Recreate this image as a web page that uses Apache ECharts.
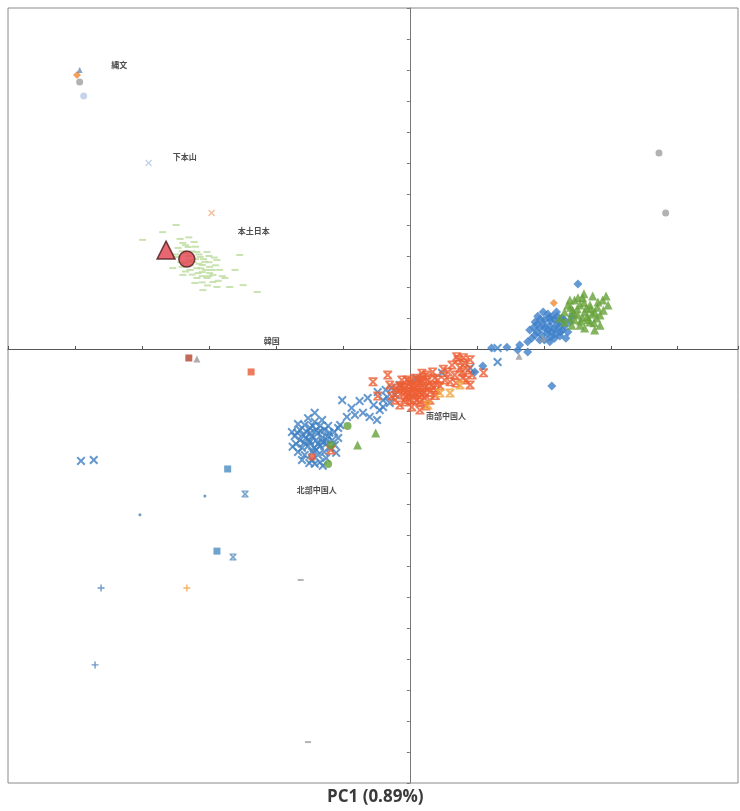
<!DOCTYPE html>
<html><head><meta charset="utf-8">
<script src="https://cdn.jsdelivr.net/npm/echarts@6/dist/echarts.min.js"></script>
<style>html,body{margin:0;padding:0;background:#fff}#c{width:740px;height:811px}</style>
</head><body><div id="c"></div>
<script>
// PC1 (x) / PC2 (y) scores, units of 0.001
const blueCross = [[-16.4,-26.1],[-15.7,-24.5],[-14.9,-25.5],[-14.2,-23.5],[-13.4,-24.8],[-12.7,-26.1],[-13.7,-27.1],[-14.6,-28.1],[-15.5,-28.7],[-16.4,-29.4],[-17.2,-28.1],[-14.9,-30.0],[-14.0,-29.4],[-13.1,-28.7],[-12.2,-28.1],[-11.6,-29.4],[-12.5,-30.6],[-13.4,-31.3],[-14.3,-31.9],[-15.2,-31.3],[-16.1,-31.9],[-16.7,-33.2],[-15.7,-34.2],[-14.6,-33.2],[-13.7,-34.2],[-12.8,-33.2],[-11.9,-31.9],[-11.2,-31.0],[-14.0,-26.1],[-13.1,-22.9],[-15.2,-22.3],[-16.7,-24.2],[-17.6,-26.8],[-12.2,-24.8],[-11.3,-26.8],[-14.6,-35.8],[-16.1,-35.8],[-13.4,-36.5],[-13.0,-37.7],[-10.4,-24.5],[-10.7,-28.7],[-17.0,-30.6],[-14.9,-27.1],[-13.7,-30.6],[-12.5,-35.2],[-14.5,-24.8],[-15.4,-26.8],[-13.3,-26.5],[-16.0,-27.7],[-12.4,-29.4],
  [-15.0,-29.5],[-14.0,-32.5],[-13.0,-30.0],[-15.8,-30.3],[-12.0,-27.0],[-16.8,-27.0],[-14.2,-37.0],[-17.5,-31.5],[-11.0,-33.5],[-15.0,-36.8],
  [-10.1,-16.5],[-9.4,-21.9],[-8.7,-19.0],[-8.2,-21.3],[-7.5,-16.8],[-7.0,-20.6],[-6.0,-21.9],[-4.9,-22.9],[-4.0,-16.5],[-3.4,-15.5],[-3.0,-17.4],[-4.0,-18.7],[-10.7,-25.5],[-14.2,-20.6],[-5.4,-18.1],[-4.5,-19.7],[-2.2,-14.8],[-3.6,-13.2],[-2.7,-12.6],[-1.5,-11.6],[-6.3,-15.8],[-4.8,-13.9],
  [4.8,-7.7],[1.0,-9.4],[13.1,-4.2],[13.1,0.3],[9.0,-6.1],
  [-49.1,-36.1],[-47.2,-35.8]];
const orangeStar = [[-2.2,-16.5],[-1.8,-13.9],[-1.5,-11.9],[-1.0,-14.8],[-0.7,-12.6],[-0.4,-10.0],[0,-13.9],[0.3,-11.6],[0.7,-9.4],[1.2,-13.2],[1.5,-11.0],[1.8,-14.8],[2.2,-12.6],[2.7,-10.0],[3.0,-13.9],[3.3,-11.6],[3.7,-9.4],[4.0,-13.2],[-1.5,-18.1],[-0.7,-17.1],[0,-16.5],[0.7,-15.8],[1.5,-17.1],[2.2,-15.8],[-0.3,-14.8],[0.4,-13.9],[1.0,-11.9],[1.9,-10.6],[2.5,-8.4],[3.4,-7.4],[4.2,-10.0],[4.5,-11.9],[-1.2,-10.0],[-2.1,-12.6],[-2.7,-15.2],[0.3,-18.7],[1.5,-19.7],[3.0,-16.5],[2.4,-18.4],[1.2,-10.0],[-0.1,-11.3],[0.9,-14.5],[2.1,-13.9],[-0.9,-13.2],
  [0.5,-12.5],[1.5,-14.0],[2.5,-12.0],[-0.5,-15.5],[1.0,-16.5],[3.5,-12.5],[2.0,-9.0],[-1.2,-12.0],[0.0,-10.5],[3.8,-15.0],[1.8,-7.8],
  [5.7,-7.4],[6.3,-5.2],[6.7,-8.4],[7.2,-3.5],[7.5,-6.1],[7.9,-9.4],[8.2,-4.5],[8.7,-6.8],[9.0,-3.5],[9.3,-8.4],[6.0,-10.6],[6.9,-11.0],[7.8,-7.4],[8.4,-10.0],[5.2,-10.0],[9.0,-11.6],[5.0,-6.5],[7.0,-2.5],[8.0,-2.8],
  [-5.5,-10.6],[-4.8,-15.2],[11.0,-7.7],[-3.3,-8.4],[-3.0,-11.6],[-11.8,-32.6]];
const yellowStar = [[4.5,-14.2],[2.7,-18.1],[6.0,-14.2],[7.5,-11.6]];
const blueDiamond = [[17.9,6.1],[18.7,8.7],[19.1,10.6],[19.4,6.8],[19.7,4.5],[20.1,9.4],[20.6,11.3],[20.9,7.4],[21.2,5.5],[21.6,9.4],[22.1,6.8],[22.4,4.2],[22.7,10.0],[23.1,7.4],[23.6,5.5],[23.9,8.7],[24.2,10.6],[20.1,2.9],[19.4,2.9],[21.6,3.5],[18.7,4.5],[20.6,6.1],[21.3,10.6],[21.9,11.9],[19.9,11.9],[22.8,6.1],[17.6,2.3],[18.2,3.5],[23.3,3.5],[20.9,2.3],[20.1,6.8],[22.4,8.7],[19.1,8.1],
  [19.0,5.5],[20.0,8.0],[21.0,9.0],[22.0,8.0],[21.5,6.5],[20.5,5.0],[22.5,5.5],[19.5,9.5],[20.8,10.2],[21.8,4.8],[23.0,9.5],[18.5,7.0],[21.0,3.8],[22.0,10.5],
  [14.5,0.6],[12.2,0.3],[17.6,-1.0],[10.9,-5.5],[9.7,-7.4],[21.2,-11.9],[25.1,21.0],[16.1,-0.3],[16.4,1.3]];
const greenTriangle = [[22.4,10.0],[23.1,11.9],[23.6,14.2],[23.9,10.0],[24.3,12.6],[24.6,15.8],[25.1,11.0],[25.4,14.2],[25.8,16.5],[26.1,11.9],[26.6,9.4],[26.9,14.2],[27.3,17.1],[27.6,11.9],[28.1,15.2],[28.4,11.0],[28.8,15.8],[29.3,17.1],[25.4,7.7],[26.1,6.8],[26.9,8.7],[27.6,6.1],[24.2,7.7],[28.4,7.7],[24.6,9.4],[26.4,13.2],[27.9,10.0],[23.1,8.7],[25.8,10.0],[27.2,11.3],[25.1,16.5],[23.9,15.8],[29.6,14.2],
  [25.0,13.0],[26.0,15.0],[27.0,13.0],[28.0,13.5],[26.5,10.5],[25.5,9.0],[24.5,11.5],[27.5,8.5],[28.9,12.5],[26.0,17.8],[24.0,13.5],
  [-5.1,-27.1],[-7.8,-31.0]];
const greenCircle = [[-9.3,-24.8],[-11.8,-31.0],[-12.2,-37.1]];
const grayCircle = [[37.2,63.2],[38.2,43.9],[-49.3,86.1]];
const grayTriangle = [[-31.8,-3.2],[16.3,-2.3],[19.9,3.5]];
const grayDash = [[-16.3,-74.5],[-15.2,-126.8]];
const honshuDash = [[-34.9,40.0],[-36.9,37.7],[-34.3,35.5],[-33.9,34.2],[-33.1,32.9],[-34.6,32.6],[-31.8,31.3],[-31.3,29.7],[-30.6,28.1],[-28.8,28.7],[-29.9,26.5],[-31.8,26.1],[-32.8,25.5],[-31.0,24.8],[-29.9,24.5],[-30.3,22.9],[-31.8,22.9],[-33.9,23.9],[-35.4,26.1],[-34.0,26.5],[-28.4,25.5],[-26.1,25.5],[-29.4,21.6],[-30.9,19.0],[-28.8,20.0],[-26.9,20.0],[-22.8,18.4],[-25.4,30.3],[-39.9,35.2],[-33.3,31.0],[-32.4,28.1],[-31.0,27.1],[-30.3,31.3],[-34.8,29.7],[-33.6,27.7],[-29.4,23.9],[-32.1,21.3],[-27.6,22.9],[-24.9,20.6],
  [-33.0,30.0],[-32.0,33.0],[-30.0,30.0],[-31.5,27.5],[-29.0,27.0],[-33.5,25.0],[-31.0,23.5],[-32.5,24.0],[-30.5,25.5],[-35.0,30.5],[-28.0,23.5],[-33.0,36.0],[-32.0,29.0],
  [-33.5,33.5],[-32.5,31.5],[-31.5,30.5],[-30.8,29.0],[-32.8,27.0],[-31.2,26.0],[-29.5,25.5],[-30.0,23.5],[-31.6,24.5],[-33.0,28.5],[-34.2,28.0],[-30.0,28.0],[-29.2,29.5],[-32.2,34.5],[-34.0,31.5],[-28.6,22.0],[-31.0,21.5],[-30.2,20.5]];
const orangeSquare = [[-23.7,-7.4],[-14.6,-34.8]];
const darkRedSquare = [[-33.0,-2.9]];
const blueSquare = [[-27.2,-38.7],[-28.8,-65.2]];
const blueStar = [[-24.6,-46.8],[-26.4,-67.1]];
const blueDot = [[-30.6,-47.4],[-40.3,-53.5]];
const bluePlus = [[-46.1,-77.1],[-47.0,-101.9]];
const orangePlus = [[-33.3,-77.1]];
const orangeDiamond = [[-49.7,88.4],[21.5,14.8]];
const orangeCross = [[-29.6,43.9]];
const lightBlueCircle = [[-48.7,81.6]];
const lightBlueCross = [[-39.0,60.0]];
const blueSmallTriangle = [[-49.3,90.0]];
const jomonTriangle = [[-36.4,31.9]];
const jomonCircle = [[-33.3,29.0]];
const groupNames = ['縄文','下本山','本土日本','韓国','南部中国人','北部中国人'];
const groupPos = [[-43.4,91.6],[-33.6,61.9],[-23.3,38.1],[-20.6,2.6],[5.4,-21.6],[-13.9,-45.5]];
const xTitle = 'PC1 (0.89%)';
const xMin = -60, xMax = 49, xStep = 10;
const yMin = -140, yMax = 110, yStep = 10;

const X_PATH = 'path://M1.6,0 L5,3.4 L8.4,0 L10,1.6 L6.6,5 L10,8.4 L8.4,10 L5,6.6 L1.6,10 L0,8.4 L3.4,5 L0,1.6 Z';
const STAR_PATH = 'path://M0,0 H10 V1.8 H0 Z M0,8.2 H10 V10 H0 Z M1.6,0 L5,3.4 L8.4,0 L10,1.6 L6.6,5 L10,8.4 L8.4,10 L5,6.6 L1.6,10 L0,8.4 L3.4,5 L0,1.6 Z';
const PLUS_PATH = 'path://M4,0 H6 V4 H10 V6 H6 V10 H4 V6 H0 V4 H4 Z';

function sc(data, symbol, size, color, extra) {
  return Object.assign({type:'scatter', data, symbol, symbolSize:size, itemStyle:{color}, silent:true}, extra||{});
}
const chart = echarts.init(document.getElementById('c'), null, {renderer:'canvas'});
chart.setOption({
  animation:false,
  backgroundColor:'#ffffff',
  grid:{left:8, right:2, top:8, bottom:28, show:true, borderColor:'#8a8a8a', borderWidth:1, backgroundColor:'transparent'},
  graphic:[{type:'text', left:327, top:789,
    style:{text:xTitle, font:'bold 17px "Open Sans"', fill:'#3a3a3a'}}],
  xAxis:{type:'value', min:xMin, max:xMax, interval:xStep,
    axisLine:{onZero:true, lineStyle:{color:'#555', width:1}},
    axisTick:{show:true, inside:true, length:3, lineStyle:{color:'#555'}},
    axisLabel:{show:false}, splitLine:{show:false}},
  yAxis:{type:'value', min:yMin, max:yMax, interval:yStep,
    axisLine:{onZero:true, lineStyle:{color:'#777', width:1}},
    axisTick:{show:true, inside:false, length:3, lineStyle:{color:'#777'}},
    axisLabel:{show:false}, splitLine:{show:false}},
  series:[
    sc(honshuDash,'rect',[7,2],'#bcdc9c'),
    sc(blueCross,X_PATH,9,'#3f7fc2'),
    sc(orangeStar,STAR_PATH,9,'#ec5e33'),
    sc(yellowStar,STAR_PATH,9,'#f2a43c'),
    sc(blueDiamond,'diamond',9,'#3d80c9'),
    sc(greenTriangle,'triangle',9,'#66a13a'),
    sc(greenCircle,'circle',8,'#66a13a'),
    sc(grayCircle,'circle',7,'#9f9f9f'),
    sc(grayTriangle,'triangle',7,'#9a9a9a'),
    sc(grayDash,'rect',[6,2],'#a0a0a0'),
    sc(orangeSquare,'rect',7,'#e95b36'),
    sc(darkRedSquare,'rect',7,'#b5452e'),
    sc(blueSquare,'rect',7,'#4a8cc0'),
    sc(blueStar,STAR_PATH,7,'#5a8fbf'),
    sc(blueDot,'circle',3,'#4a80bb'),
    sc(bluePlus,PLUS_PATH,7,'#4a7fbd'),
    sc(orangePlus,PLUS_PATH,7,'#f0a040'),
    sc(orangeDiamond,'diamond',8,'#ec8a35'),
    sc(orangeCross,X_PATH,7,'#f2b48a'),
    sc(lightBlueCircle,'circle',7,'#b8cbe6'),
    sc(lightBlueCross,X_PATH,7,'#b5cbe8'),
    sc(blueSmallTriangle,'triangle',6,'#6b8fb5'),
    sc(jomonTriangle,'triangle',18,'#e2414c',{itemStyle:{color:'#e2414c', borderColor:'#4a1a1e', borderWidth:1.5}}),
    sc(jomonCircle,'circle',16,'#e2414c',{itemStyle:{color:'#e2414c', borderColor:'#4a1a1e', borderWidth:1.5}}),
    {type:'scatter', silent:true, symbolSize:0,
      data:groupNames.map((n,i)=>({name:n, value:groupPos[i]})),
      label:{show:true, position:'inside', formatter:'{b}', fontFamily:'Noto Sans CJK JP', fontWeight:'bold', fontSize:8, color:'#222'}}
  ]
});
</script></body></html>
